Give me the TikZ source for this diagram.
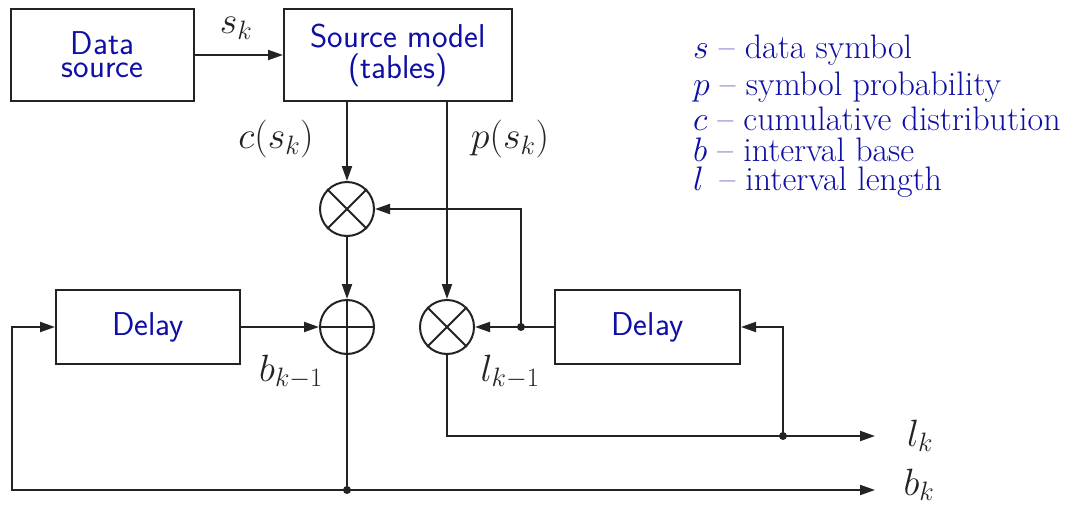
\RequirePackage{fix-cm}
\documentclass[tikz,border=0pt]{standalone}
\usepackage{fontspec}
\usetikzlibrary{arrows.meta}
\definecolor{ink}{RGB}{35,35,35}
\definecolor{navy}{RGB}{15,15,165}
\begin{document}
\begin{tikzpicture}[x=1pt,y=-1pt,
  line width=2pt, draw=ink,
  arr/.style={draw=ink, -{Triangle[length=15pt,width=10pt]}},
  block/.style={draw=ink, rectangle, inner sep=0pt, text=navy, align=center,
    font=\sffamily\fontsize{33}{31}\selectfont},
  op/.style={draw=ink, circle, inner sep=0pt, minimum size=54pt},
  lab/.style={inner sep=0pt, text=ink, font=\fontsize{38}{42}\selectfont},
  legend/.style={inner sep=0pt, anchor=base west, text=navy, font=\fontsize{34}{38}\selectfont},
  dot/.style={circle, fill=ink, inner sep=0pt, minimum size=8pt}]
\useasboundingbox (0,0) rectangle (1070,509);

% blocks
\node[block, minimum width=183pt, minimum height=92pt,
      font=\sffamily\fontsize{33}{23}\selectfont] (ds) at (102.5,55) {Data\\source};
\node[block, minimum width=228pt, minimum height=92pt] (sm) at (398,55) {Source model\\(tables)};
\node[block, minimum width=184pt, minimum height=74pt] (dl) at (148,327) {Delay};
\node[block, minimum width=185pt, minimum height=74pt] (dr) at (647.5,327) {Delay};

% multipliers and adder
\node[op] (m1) at (347,209) {};
\draw (m1.north west) -- (m1.south east) (m1.north east) -- (m1.south west);
\node[op] (ad) at (347,327) {};
\draw (ad.north) -- (ad.south) (ad.west) -- (ad.east);
\node[op] (m2) at (447,327) {};
\draw (m2.north west) -- (m2.south east) (m2.north east) -- (m2.south west);

% junctions and outputs
\coordinate (j1) at (521,327);
\coordinate (jb) at (347,490);
\coordinate (jl) at (783,436);
\coordinate (lc) at (12,490);
\coordinate (bk) at (875,490);
\coordinate (lk) at (875,436);

% connectors
\draw[arr] (ds.east) -- (sm.west);
\draw[arr] (m1 |- sm.south) -- (m1.north);
\draw[arr] (m2 |- sm.south) -- (m2.north);
\draw[arr] (m1.south) -- (ad.north);
\draw[arr] (dl.east) -- (ad.west);
\draw[arr] (dr.west) -- (m2.east);
\draw[arr] (j1) |- (m1.east);
\draw (ad.south) -- (jb);
\draw[arr] (jb) -- (lc) |- (dl.west);
\draw[arr] (jb) -- (bk);
\draw[arr] (m2.south) |- (lk);
\draw[arr] (jl) |- (dr.east);
\node[dot] at (j1) {};
\node[dot] at (jb) {};
\node[dot] at (jl) {};

% signal labels
\node[lab] (lsk) at (236,28) {$s_k$};
\node[lab] (lcs) at (276,139) {$c(s_k)$};
\node[lab] (lps) at (510,139) {$p(s_k)$};
\node[lab] (lb1) at (291,372) {$b_{k-1}$};
\node[lab] (ll1) at (510,372) {$l_{k-1}$};
\node[lab, anchor=base] (llk) at (920,446) {$l_k$};
\node[lab, anchor=base] (lbk) at (919,495) {$b_k$};

% legend
\node[legend] (g1) at (692,58) {$s$ -- data symbol};
\node[legend] (g2) at (692,95) {$p$ -- symbol probability};
\node[legend] (g3) at (692,130) {$c$ -- cumulative distribution};
\node[legend] (g4) at (692,161) {$b$ -- interval base};
\node[legend] (g5) at (692,190) {$l$\, -- interval length};
\end{tikzpicture}
\end{document}
